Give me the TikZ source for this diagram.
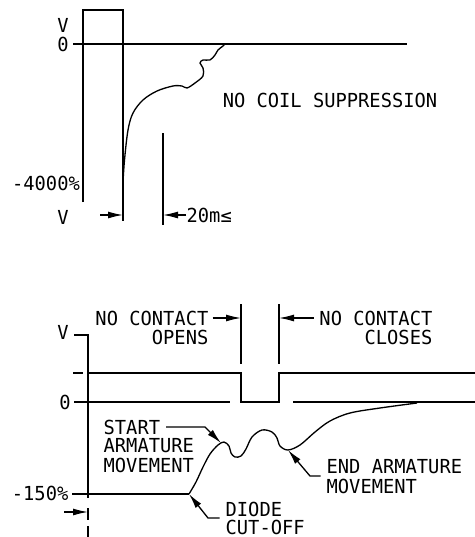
\documentclass[tikz,border=0pt]{standalone}
\usepackage{fontspec}
\setmonofont{DejaVu Sans Mono}[FakeStretch=0.97]
\usetikzlibrary{arrows.meta}

\begin{document}
\begin{tikzpicture}[x=0.02cm, y=-0.02cm, line width=0.75pt]
\tikzset{lbl/.style={font=\ttfamily\fontsize{11}{11.5}\selectfont, inner sep=0pt},
         tip/.style={-{Latex[length=3mm,width=1.4mm]}}}
\useasboundingbox (0,0) rectangle (475,537);

% upper trace, no suppression
\node[lbl] (v1) at (63,25) {V};
\node[lbl] (z1) at (63,44) {0};
\node[lbl] (k1) at (46,183) {-4000\%};
\node[lbl] (v2) at (63,217) {V};
\node[lbl] (nocoil) at (330,100) {NO COIL SUPPRESSION};
\node[lbl, anchor=west] (t20) at (186,215) {20m≤};
\coordinate (pulseR) at (123,215);
\coordinate (relR) at (163,215);
\coordinate (lft1) at (100,215);
\draw (83,202) -- (83,10) -- (123,10) -- (123,221);
\draw (73,44) -- (407,44);
\draw (163,133) -- (163,225);
\draw[tip] (lft1) -- (pulseR);
\draw[tip] (t20.west) -- (relR);
\draw plot[smooth, tension=0.55] coordinates {(123,182) (124.5,160) (128,130) (133,113)
  (143,100) (157,91) (173,86) (182,86) (187,88) (195,83) (203,76) (203,68) (200,63)
  (203,60) (210,60) (215,55) (218,50) (223,46) (225,44)};

% lower trace, diode suppression
\node[lbl] (v3) at (63,332) {V};
\node[lbl] (z2) at (65,402) {0};
\node[lbl, anchor=east] (k2) at (69,493) {-150\%};
\node[lbl, anchor=east] (ncopen) at (209,318) {NO CONTACT};
\node[lbl, anchor=east] (opens) at (209,337) {OPENS};
\node[lbl, anchor=east] (ncclose) at (433,318) {NO CONTACT};
\node[lbl, anchor=east] (closes) at (433,337) {CLOSES};
\node[lbl, anchor=west] (start) at (103,427) {START};
\node[lbl, anchor=west] (arm1) at (103,446) {ARMATURE};
\node[lbl, anchor=west] (mov1) at (103,465) {MOVEMENT};
\node[lbl, anchor=west] (diode) at (225,509) {DIODE};
\node[lbl, anchor=west] (cut) at (225,527) {CUT-OFF};
\node[lbl, anchor=west] (endarm) at (326,467) {END ARMATURE};
\node[lbl, anchor=west] (mov2) at (326,486) {MOVEMENT};
\coordinate (openM) at (241,318);
\coordinate (closeM) at (279,318);
\coordinate (startTip) at (221,443);
\coordinate (cutTip) at (189,494);
\coordinate (endTip) at (288,450);
\coordinate (axisA) at (88,512);
\coordinate (lft2) at (64,512);
\draw (74,335) -- (88,335) -- (88,498);
\draw (88,508) -- (88,520);
\draw (88,526) -- (88,537);
\draw (73,373) -- (83,373);
\draw (88,373) -- (241,373) -- (241,402) -- (279,402) -- (279,373) -- (475,373);
\draw (74,402) -- (230,402);
\draw (293,402) -- (475,402);
\draw (72,494) -- (189,494);
\draw (241,304) -- (241,364);
\draw (279,304) -- (279,364);
\draw[tip] ([xshift=2pt]ncopen.east) -- (openM);
\draw[tip] ([xshift=-3pt]ncclose.west) -- (closeM);
\draw[tip] (lft2) -- (axisA);
\draw plot[smooth, tension=0.55] coordinates {(189,494) (196,482) (203,467) (210,454)
  (218,445) (224,442) (229,446) (231,453) (235,457) (241,456) (246,449) (252,437)
  (262,430) (272,432) (277,438) (280,446) (288,450) (300,445) (315,432) (330,421)
  (350,413) (380,408) (417,403)};
\draw[tip] ([xshift=3pt]start.east) -- (205,427) -- (startTip);
\draw[tip] ([xshift=-3pt]cut.west |- 0,518) -- (208,518) -- (cutTip);
\draw[tip] ([xshift=-3pt]endarm.west |- 0,476) -- (310,476) -- (endTip);
\end{tikzpicture}
\end{document}
